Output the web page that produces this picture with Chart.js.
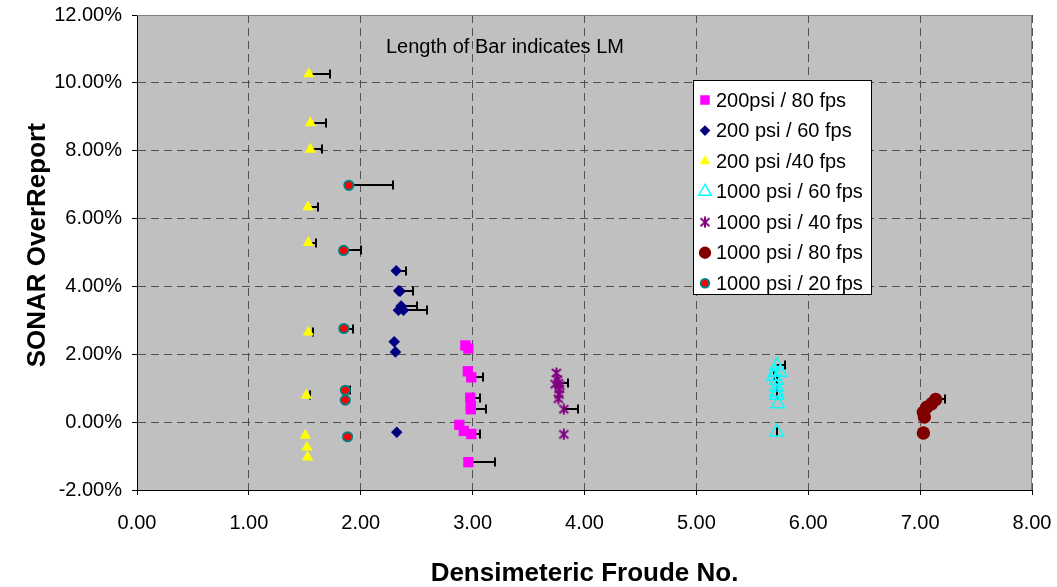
<!DOCTYPE html>
<html>
<head>
<meta charset="utf-8">
<script src="https://cdn.jsdelivr.net/npm/chart.js@4.4.1/dist/chart.umd.min.js"></script>
<style>
    html, body { margin: 0; padding: 0; background: #fff; }
    #wrap { width: 1057px; height: 587px; }
</style>
</head>
<body>
<div id="wrap"><canvas id="froudeChart" width="1057" height="587"></canvas></div>
<script>
// --- dados (x = Froude, y = % over report, lm = comprimento da barra) ---

// 200psi / 80 fps
const p200f80X  = [2.935, 2.962, 2.957, 2.988, 2.979, 2.984, 2.984, 2.881, 2.921, 2.988, 2.962];
const p200f80Y  = [2.26, 2.17, 1.50, 1.32, 0.72, 0.48, 0.38, -0.08, -0.26, -0.35, -1.18];
const p200f80LM = [null, null, null, 0.107, 0.09, null, 0.14, null, null, 0.078, 0.241];

// 200 psi / 60 fps
const p200f60X  = [2.317, 2.340, 2.352, 2.361, 2.337, 2.382, 2.299, 2.310, 2.322];
const p200f60Y  = [4.46, 3.87, 3.86, 3.42, 3.30, 3.30, 2.37, 2.07, -0.30];
const p200f60LM = [0.089, 0.131, null, 0.139, null, 0.214, null, null, null];

// 200 psi /40 fps
const p200f40X  = [1.537, 1.550, 1.550, 1.528, 1.532, 1.532, 1.514, 1.505, 1.519, 1.525];
const p200f40Y  = [10.26, 8.82, 8.04, 6.34, 5.29, 2.65, 0.79, -0.39, -0.74, -1.03];
const p200f40LM = [0.185, 0.142, 0.107, 0.093, 0.065, 0.041, 0.036, null, null, null];

// 1000 psi / 60 fps
const p1000f60X  = [5.718, 5.703, 5.748, 5.690, 5.718, 5.718, 5.718, 5.718, 5.727, 5.718];
const p1000f60Y  = [1.67, 1.47, 1.47, 1.35, 1.23, 1.03, 0.88, 0.79, 0.54, -0.29];
const p1000f60LM = [0.078, null, null, 0, 0, 0, null, 0, null, 0];

// 1000 psi / 40 fps
const p1000f40X  = [3.749, 3.760, 3.767, 3.738, 3.780, 3.775, 3.773, 3.767, 3.815, 3.815];
const p1000f40Y  = [1.45, 1.25, 1.15, 1.12, 1.08, 0.98, 0.82, 0.69, 0.38, -0.36];
const p1000f40LM = [null, null, 0.087, null, null, null, null, null, 0.131, null];

// 1000 psi / 80 fps
const p1000f80X  = [7.139, 7.103, 7.059, 7.029, 7.038, 7.029];
const p1000f80Y  = [0.67, 0.54, 0.44, 0.29, 0.15, -0.32];
const p1000f80LM = [0.084, 0.027, null, null, null, null];

// 1000 psi / 20 fps
const p1000f20X  = [1.894, 1.847, 1.849, 1.862, 1.862, 1.882];
const p1000f20Y  = [6.98, 5.06, 2.76, 0.94, 0.65, -0.43];
const p1000f20LM = [0.393, 0.158, 0.08, 0.038, null, null];

const seriesNames = [
    '200psi / 80 fps', '200 psi / 60 fps', '200 psi /40 fps',
    '1000 psi / 60 fps', '1000 psi / 40 fps', '1000 psi / 80 fps', '1000 psi / 20 fps'
];

const FONT = '"Liberation Sans", Arial, sans-serif';

const toPoints = (xs, ys) => xs.map((v, i) => ({ x: v, y: ys[i] }));

// marcador asterisco (X + traço vertical, estilo Excel)
const makeAsterisk = (color) => {
    const c = document.createElement('canvas');
    c.width = 12; c.height = 12;
    const g = c.getContext('2d');
    g.strokeStyle = color;
    g.lineWidth = 2;
    g.beginPath();
    g.moveTo(6, 0.5); g.lineTo(6, 11.5);
    g.moveTo(1.5, 2); g.lineTo(10.5, 10);
    g.moveTo(1.5, 10); g.lineTo(10.5, 2);
    g.stroke();
    return c;
};

const mk = (label, xs, ys, lm, style) => Object.assign({
    label: label,
    data: toPoints(xs, ys),
    lm: lm,
    showLine: false
}, style);

const datasets = [
    mk(seriesNames[0], p200f80X, p200f80Y, p200f80LM,
        { pointStyle: 'rect', pointRadius: 7.3, backgroundColor: '#FF00FF', borderColor: '#FF00FF', borderWidth: 0 }),
    mk(seriesNames[1], p200f60X, p200f60Y, p200f60LM,
        { pointStyle: 'rectRot', pointRadius: 5.8, backgroundColor: '#000080', borderColor: '#000080', borderWidth: 0 }),
    mk(seriesNames[2], p200f40X, p200f40Y, p200f40LM,
        { pointStyle: 'triangle', pointRadius: 6.6, backgroundColor: '#FFFF00', borderColor: '#FFFF00', borderWidth: 0 }),
    mk(seriesNames[3], p1000f60X, p1000f60Y, p1000f60LM,
        { pointStyle: 'triangle', pointRadius: 7.8, backgroundColor: 'rgba(0,0,0,0)', borderColor: '#00FFFF', borderWidth: 1.5 }),
    mk(seriesNames[4], p1000f40X, p1000f40Y, p1000f40LM,
        { pointStyle: makeAsterisk('#800080'), pointRadius: 6, backgroundColor: '#800080', borderColor: '#800080', borderWidth: 0 }),
    mk(seriesNames[5], p1000f80X, p1000f80Y, p1000f80LM,
        { pointStyle: 'circle', pointRadius: 6.7, backgroundColor: '#800000', borderColor: '#800000', borderWidth: 0 }),
    mk(seriesNames[6], p1000f20X, p1000f20Y, p1000f20LM,
        { pointStyle: 'circle', pointRadius: 4.6, backgroundColor: '#FF0000', borderColor: '#008080', borderWidth: 2 })
];

// fundo cinza da área de plotagem + borda superior/direita
const plotArea = {
    id: 'plotArea',
    beforeDraw(chart) {
        const { ctx, chartArea: a } = chart;
        ctx.save();
        ctx.fillStyle = '#C0C0C0';
        ctx.fillRect(a.left, a.top, a.right - a.left, a.bottom - a.top);
        ctx.restore();
    },
    beforeDatasetsDraw(chart) {
        const { ctx, chartArea: a } = chart;
        ctx.save();
        ctx.strokeStyle = '#808080';
        ctx.lineWidth = 1;
        ctx.beginPath();
        ctx.moveTo(a.left, Math.round(a.top) + 0.5);
        ctx.lineTo(Math.round(a.right) - 0.5, Math.round(a.top) + 0.5);
        ctx.lineTo(Math.round(a.right) - 0.5, a.bottom);
        ctx.stroke();
        ctx.restore();
    }
};

// barras horizontais (LM) com traço no fim
const errorBars = {
    id: 'errorBars',
    beforeDatasetsDraw(chart) {
        const { ctx, scales: { x, y } } = chart;
        ctx.save();
        ctx.strokeStyle = '#000';
        ctx.lineWidth = 2;
        chart.data.datasets.forEach(ds => {
            ds.data.forEach((p, i) => {
                const lm = ds.lm[i];
                if (lm === null || lm === undefined) return;
                const px = x.getPixelForValue(p.x);
                const py = Math.round(y.getPixelForValue(p.y));
                const ex = Math.round(x.getPixelForValue(p.x + lm));
                ctx.beginPath();
                ctx.moveTo(px, py);
                ctx.lineTo(ex, py);
                ctx.stroke();
                ctx.beginPath();
                ctx.moveTo(ex, py - 4.5);
                ctx.lineTo(ex, py + 4.5);
                ctx.stroke();
            });
        });
        ctx.restore();
    }
};

// legenda dentro do gráfico + anotação
const boxLegend = {
    id: 'boxLegend',
    afterDraw(chart) {
        const { ctx } = chart;
        const drawPoint = Chart.helpers.drawPoint;
        ctx.save();
        ctx.fillStyle = '#fff';
        ctx.strokeStyle = '#000';
        ctx.lineWidth = 1;
        ctx.fillRect(693.5, 80.5, 178, 214);
        ctx.strokeRect(693.5, 80.5, 178, 214);

        chart.data.datasets.forEach((ds, i) => {
            const cy = 100 + i * 30.55;
            ctx.fillStyle = ds.backgroundColor;
            ctx.strokeStyle = ds.borderColor;
            ctx.lineWidth = ds.borderWidth;
            drawPoint(ctx, {
                pointStyle: ds.pointStyle,
                radius: ds.pointRadius * 0.92,
                rotation: 0,
                borderWidth: ds.borderWidth
            }, 705, cy);
            ctx.fillStyle = '#000';
            ctx.font = '20px ' + FONT;
            ctx.textAlign = 'left';
            ctx.textBaseline = 'middle';
            ctx.fillText(ds.label, 716, cy + 1);
        });

        ctx.fillStyle = '#000';
        ctx.font = '20px ' + FONT;
        ctx.textAlign = 'left';
        ctx.textBaseline = 'middle';
        ctx.fillText('Length of Bar indicates LM', 386, 47);
        ctx.restore();
    }
};

const ctx = document.getElementById('froudeChart');

new Chart(ctx, {
    type: 'scatter',
    data: { datasets: datasets },
    options: {
        responsive: false,
        animation: false,
        layout: { padding: { left: 0, top: 15, right: 25, bottom: 0 } },
        scales: {
            x: {
                type: 'linear',
                min: 0,
                max: 8,
                afterFit: (scale) => {
                    scale.height = 97;
                    scale.paddingLeft = 0;
                    scale.paddingRight = 0;
                },
                ticks: {
                    stepSize: 1,
                    color: '#000',
                    padding: 16,
                    font: { family: FONT, size: 20 },
                    callback: (v) => Number(v).toFixed(2)
                },
                grid: {
                    color: '#505050',
                    lineWidth: 1,
                    tickLength: 5,
                    tickColor: '#000',
                    tickBorderDash: [1, 0]
                },
                border: { display: true, color: '#000', width: 1, dash: [8, 5] },
                title: {
                    display: true,
                    text: 'Densimeteric Froude No.',
                    color: '#000',
                    padding: { top: 0, bottom: -2 },
                    font: { family: FONT, size: 26, weight: 'bold' }
                }
            },
            y: {
                type: 'linear',
                min: -2,
                max: 12,
                afterFit: (scale) => {
                    scale.width = 137;
                    scale.paddingTop = 0;
                    scale.paddingBottom = 0;
                },
                ticks: {
                    stepSize: 2,
                    color: '#000',
                    padding: 10,
                    font: { family: FONT, size: 20 },
                    callback: (v) => Number(v).toFixed(2) + '%'
                },
                grid: {
                    color: '#505050',
                    lineWidth: 1,
                    tickLength: 5,
                    tickColor: '#000',
                    tickBorderDash: [1, 0]
                },
                border: { display: true, color: '#000', width: 1, dash: [8, 5] },
                title: {
                    display: true,
                    text: '  SONAR OverReport',
                    color: '#000',
                    padding: { top: 22, bottom: 0 },
                    font: { family: FONT, size: 26, weight: 'bold' }
                }
            }
        },
        plugins: {
            legend: { display: false },
            tooltip: { enabled: false }
        }
    },
    plugins: [plotArea, errorBars, boxLegend]
});
</script>
</body>
</html>
